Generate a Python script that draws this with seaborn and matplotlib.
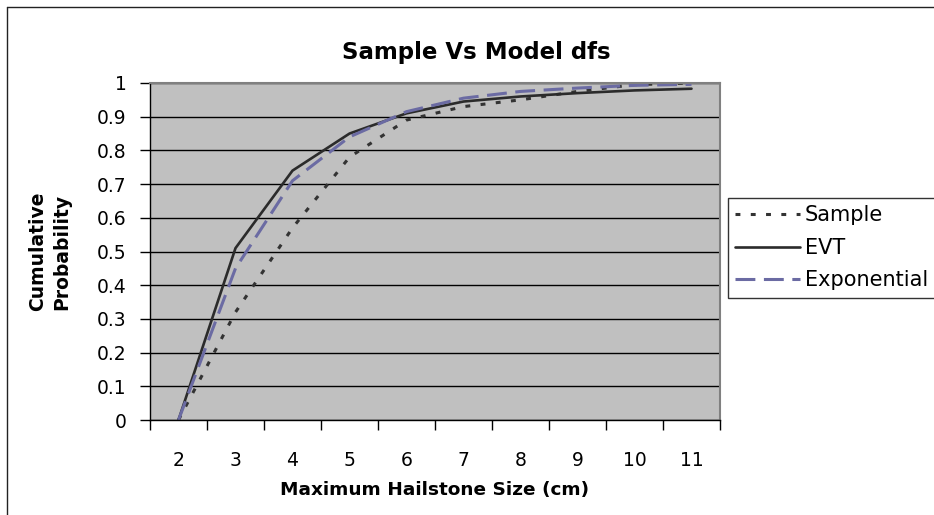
import numpy as np
import pandas as pd
import matplotlib.pyplot as plt
from matplotlib.lines import Line2D
import seaborn as sns

# Datos
sizes = [2, 3, 4, 5, 6, 7, 8, 9, 10, 11]
sample = [0.0, 0.32, 0.57, 0.78, 0.89, 0.93, 0.95, 0.975, 0.995, 1.0]
evt = [0.0, 0.51, 0.74, 0.85, 0.91, 0.945, 0.96, 0.97, 0.978, 0.983]
exponential = [0.0, 0.45, 0.71, 0.84, 0.915, 0.955, 0.975, 0.985, 0.993, 0.996]
y_ticks = [0, 0.1, 0.2, 0.3, 0.4, 0.5, 0.6, 0.7, 0.8, 0.9, 1]

sns.set_theme(style="white")
plt.rcParams['font.family'] = ['DejaVu Sans']
plt.rcParams['text.color'] = 'black'
plt.rcParams['axes.labelcolor'] = 'black'
plt.rcParams['xtick.color'] = 'black'
plt.rcParams['ytick.color'] = 'black'

fig = plt.figure(figsize=(9.34, 5.15), dpi=100)
ax = fig.add_axes([150 / 934, 95 / 515, 570 / 934, 337 / 515])
ax.set_facecolor('#c0c0c0')

sns.lineplot(x=sizes, y=sample, ax=ax, color='#333333', linewidth=2.2,
             linestyle=(0, (1.6, 3.4)), label='Sample')
sns.lineplot(x=sizes, y=evt, ax=ax, color='#2b2b2b', linewidth=1.9,
             linestyle='-', label='EVT')
sns.lineplot(x=sizes, y=exponential, ax=ax, color='#6b6ba3', linewidth=2.2,
             linestyle=(0, (6.5, 2.8)), label='Exponential')

ax.set_xlim(1.5, 11.5)
ax.set_ylim(0, 1)
ax.set_yticks(y_ticks)
ax.set_yticklabels([f'{v:g}' for v in y_ticks], fontsize=13.5)
ax.set_xticks(sizes)
ax.set_xticklabels([str(s) for s in sizes], fontsize=13.5)
ax.set_xticks(np.arange(1.5, 12, 1), minor=True)
ax.tick_params(axis='x', which='major', length=0, pad=22)
ax.tick_params(axis='x', which='minor', length=7, width=1, color='black', bottom=True)
ax.tick_params(axis='y', which='major', length=7, width=1, color='black', left=True, pad=10)

ax.yaxis.grid(True, color='black', linewidth=1)
ax.xaxis.grid(False)
for side in ['top', 'right']:
    ax.spines[side].set_color('#808080')
    ax.spines[side].set_linewidth(1.5)
for side in ['left', 'bottom']:
    ax.spines[side].set_color('black')
    ax.spines[side].set_linewidth(1)

# Titulo centrado sobre todo el grafico (como en Excel)
fig.text(476 / 934, 1 - 52 / 515, 'Sample Vs Model dfs', fontsize=16.5,
         fontweight='bold', ha='center', va='center')
ax.set_xlabel('Maximum Hailstone Size (cm)', fontsize=13.3, fontweight='bold', labelpad=8)
ax.set_ylabel('Cumulative\nProbability', fontsize=13.5, fontweight='bold',
              labelpad=18, linespacing=1.35)

leg = ax.legend(loc='upper left', bbox_to_anchor=(728 / 934, 317 / 515),
                bbox_transform=fig.transFigure, fontsize=15, frameon=True,
                fancybox=False, edgecolor='black', handlelength=3.1,
                handletextpad=0.25, borderpad=0.35, labelspacing=0.6,
                borderaxespad=0)
leg.get_frame().set_linewidth(1)
leg.get_frame().set_facecolor('white')

# Borde del grafico
fig.add_artist(Line2D([7 / 934, 7 / 934], [0, 508 / 515], color='#222222', linewidth=1))
fig.add_artist(Line2D([7 / 934, 1], [508 / 515, 508 / 515], color='#222222', linewidth=1))

fig.savefig('out.png', dpi=100)
